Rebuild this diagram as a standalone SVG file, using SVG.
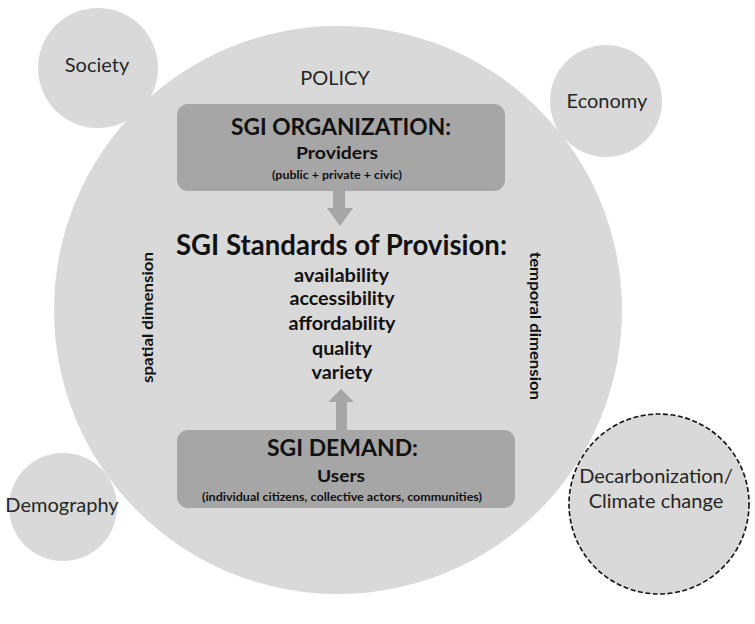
<svg xmlns="http://www.w3.org/2000/svg" width="755" height="624" viewBox="0 0 755 624">
<style>
.ctx{fill:#d9d9d9}
.box{fill:#a6a6a6}
.arr{fill:#a6a6a6}
.lbl{font-family:Lato,"Liberation Sans",sans-serif;font-size:20px;fill:#262626;text-anchor:middle}
.b{font-family:Lato,"Liberation Sans",sans-serif;font-weight:bold;fill:#111;text-anchor:middle}
</style>
<rect width="755" height="624" fill="#ffffff"/>
<g id="society"><circle class="ctx" cx="98" cy="68" r="60"/><text class="lbl" x="97" y="72">Society</text></g>
<g id="economy"><circle class="ctx" cx="606" cy="101" r="56"/><text class="lbl" x="607" y="108">Economy</text></g>
<g id="demography"><circle class="ctx" cx="63" cy="507" r="54"/><text class="lbl" x="62" y="512">Demography</text></g>
<g id="decarbonization"><circle class="ctx" cx="659" cy="504" r="90" stroke="#111" stroke-width="1.6" stroke-dasharray="5,2.5"/>
<text class="lbl" x="656" y="483" font-size="18">Decarbonization/</text><text class="lbl" x="656" y="508" font-size="18">Climate change</text></g>
<g id="policy"><circle class="ctx" cx="338" cy="310" r="284"/><text class="lbl" x="335" y="85" font-size="22" fill="#111">POLICY</text></g>
<g id="connectors">
<path class="arr" d="M333,190 H345 V208 H353 L340,226 L327,208 H333 Z"/>
<path class="arr" d="M336,430 V402 H328 L341,389 L354,402 H347 V430 Z"/>
</g>
<g id="sgi-organization">
<rect class="box" x="177" y="104" width="328" height="87" rx="11"/>
<text class="b" x="341" y="135" font-size="23" textLength="220" lengthAdjust="spacingAndGlyphs">SGI ORGANIZATION:</text>
<text class="b" x="337" y="159" font-size="17" textLength="82" lengthAdjust="spacingAndGlyphs">Providers</text>
<text class="b" x="337" y="179" font-size="11" textLength="130" lengthAdjust="spacingAndGlyphs">(public + private + civic)</text>
</g>
<g id="sgi-standards">
<text class="b" x="341.5" y="255" font-size="28" textLength="331" lengthAdjust="spacingAndGlyphs">SGI Standards of Provision:</text>
<text class="b" x="341.5" y="282" font-size="18" textLength="95" lengthAdjust="spacingAndGlyphs">availability</text>
<text class="b" x="342" y="305" font-size="18" textLength="105" lengthAdjust="spacingAndGlyphs">accessibility</text>
<text class="b" x="342" y="330" font-size="18" textLength="107" lengthAdjust="spacingAndGlyphs">affordability</text>
<text class="b" x="342" y="355" font-size="18" textLength="60" lengthAdjust="spacingAndGlyphs">quality</text>
<text class="b" x="342" y="379" font-size="18" textLength="61" lengthAdjust="spacingAndGlyphs">variety</text>
</g>
<g id="spatial-dimension"><text class="b" font-size="15" transform="translate(153,317.5) rotate(-90)" x="0" y="0" textLength="131" lengthAdjust="spacingAndGlyphs">spatial dimension</text></g>
<g id="temporal-dimension"><text class="b" font-size="15" transform="translate(530,326) rotate(90)" x="0" y="0" textLength="148" lengthAdjust="spacingAndGlyphs">temporal dimension</text></g>
<g id="sgi-demand">
<rect class="box" x="177" y="430" width="338" height="78" rx="11"/>
<text class="b" x="342.5" y="456" font-size="23" textLength="151" lengthAdjust="spacingAndGlyphs">SGI DEMAND:</text>
<text class="b" x="341" y="482" font-size="17" textLength="48" lengthAdjust="spacingAndGlyphs">Users</text>
<text class="b" x="342" y="501" font-size="11" textLength="280" lengthAdjust="spacingAndGlyphs">(individual citizens, collective actors, communities)</text>
</g>
</svg>
